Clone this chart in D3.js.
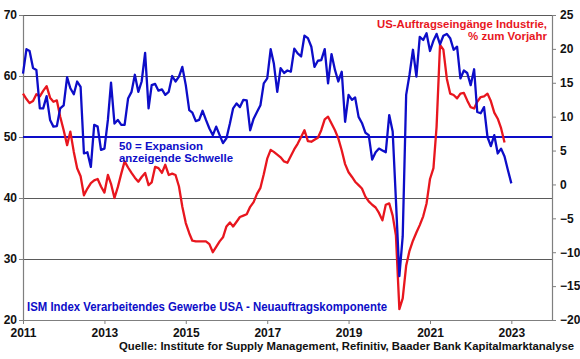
<!DOCTYPE html>
<html>
<head>
<meta charset="utf-8">
<script src="https://cdn.jsdelivr.net/npm/d3@7"></script>
<style>
  html, body { margin: 0; padding: 0; background: #fff; }
  svg { display: block; font-family: "Liberation Sans", Arial, sans-serif; }
</style>
</head>
<body>
<svg id="chart" width="580" height="359"></svg>
<script>
// ---- Data (monthly, Jan 2011 onward) ----
const startYear = 2011;
// ISM Index Verarbeitendes Gewerbe USA - Neuauftragskomponente (left axis), Jan 2011 - Jan 2023
const ismNewOrders = [
  60.4, 64.4, 64.1, 61.3, 61.0, 54.7, 54.7, 56.7, 52.8, 51.7, 51.8, 54.7,
  55.2, 59.8, 58.0, 57.0, 59.1, 58.2, 47.3, 47.5, 45.1, 52.0, 51.7, 47.9,
  48.1, 52.8, 58.9, 52.2, 52.8, 52.0, 52.0, 56.3, 57.4, 60.2, 57.4, 59.1,
  63.8, 54.7, 58.5, 58.7, 57.6, 57.8, 56.9, 57.4, 60.0, 59.1, 59.9, 61.5,
  58.5, 54.4, 54.0, 52.6, 52.8, 54.3, 52.8, 51.4, 50.3, 51.7, 50.3, 49.0,
  49.8, 52.2, 54.7, 55.5, 54.9, 56.1, 56.0, 51.1, 53.0, 54.1, 55.2, 58.8,
  59.6, 64.4, 62.1, 57.4, 61.3, 60.5, 60.9, 60.7, 64.5, 63.7, 63.2, 66.6,
  66.2, 64.8, 61.5, 62.5, 62.6, 64.4, 58.8, 63.6, 61.0, 59.1, 60.7, 52.5,
  56.9, 56.1, 56.5, 53.3, 52.3, 50.7, 50.3, 46.3, 47.5, 48.1, 47.8, 47.5,
  53.6, 50.9, 39.7, 27.2, 33.7, 56.9, 60.2, 64.3, 59.9, 66.4, 65.9, 67.0,
  64.1, 65.8, 66.9, 65.2, 66.6, 66.9, 66.2, 64.3, 64.8, 59.6, 60.9, 60.5,
  58.5, 61.1, 54.1, 53.9, 54.9, 50.0, 48.5, 50.3, 47.3, 48.1, 46.8, 44.6,
  42.4
];
// US-Auftragseingänge Industrie, % zum Vorjahr (right axis), Jan 2011 - Nov 2022
const factoryOrdersYoY = [
  13.4, 12.6, 12.0, 12.3, 13.3, 13.0, 13.8, 14.5, 12.8, 12.2, 12.4, 10.0,
  8.0, 5.8, 7.8, 4.8, 2.4, 1.2, -1.6, -0.6, 0.2, 0.6, 0.8, -0.3,
  -1.2, 1.4, 0.1, -2.0, -0.4, 1.6, 3.4, 2.5, 1.7, 1.0, 0.4, 1.1,
  1.7, -0.1, 0.3, 2.6, 2.4, 1.7, 2.9, 1.4, 1.6, 1.4, -0.3, -3.3,
  -5.7, -7.2, -8.3, -8.4, -8.4, -8.4, -8.4, -8.8, -10.0, -9.2, -8.4, -7.8,
  -6.2, -5.6, -6.2, -5.5, -4.8, -4.6, -4.4, -3.3, -2.6, -1.4, -0.5, 1.5,
  3.8, 5.1, 4.8, 4.4, 4.0, 3.4, 3.2, 4.2, 5.2, 6.0, 7.0, 8.0,
  6.4, 6.3, 6.6, 6.9, 8.0, 9.6, 10.0, 9.0, 8.0, 6.8, 5.0, 3.0,
  1.8, 1.1, 0.4, -0.1, -0.6, -1.8, -2.5, -3.0, -3.4, -4.2, -5.3, -3.0,
  -2.8, -4.6, -7.5, -18.4, -16.8, -12.0, -9.8, -8.3, -7.1, -6.0, -4.7, -2.8,
  0.8, 2.4, 8.5, 20.6, 19.9, 15.6, 13.4, 13.2, 12.7, 13.4, 13.5, 12.4,
  11.4, 11.2, 12.2, 12.9, 13.0, 13.4, 12.3, 10.6, 9.7, 8.3, 6.2
];
const yearTicks = [2011, 2013, 2015, 2017, 2019, 2021, 2023];
const leftTicks = [20, 30, 40, 50, 60, 70];
const rightTicks = [-20, -15, -10, -5, 0, 5, 10, 15, 20, 25];
const gridValues = [30, 40, 60, 70];
const thresholdValue = 50;
const titleBlue = "ISM Index Verarbeitendes Gewerbe USA - Neuauftragskomponente";
const thresholdLabel = ["50 = Expansion", "anzeigende Schwelle"];
const titleRed = ["US-Auftragseingänge Industrie,", "% zum Vorjahr"];
const sourceText = "Quelle: Institute for Supply Management, Refinitiv, Baader Bank Kapitalmarktanalyse";

// ---- Layout ----
const plot = { left: 23, right: 552, top: 15, bottom: 320 };
const BLUE = "#0d0dc8";
const RED = "#e8161e";
const GRID = "#5a5a5a";
const AXIS = "#7f7f7f";

const svg = d3.select("#chart");

const x = d3.scaleTime()
  .domain([new Date(2011, 0, 1), new Date(2024, 0, 1)])
  .range([plot.left, plot.right]);
const yL = d3.scaleLinear().domain([20, 70]).range([plot.bottom, plot.top]);
const yR = d3.scaleLinear().domain([-20, 25]).range([plot.bottom, plot.top]);

const monthDate = i => new Date(startYear, i, 1);

// Gridlines
svg.append("g").selectAll("line").data(gridValues).join("line")
  .attr("x1", plot.left).attr("x2", plot.right)
  .attr("y1", d => yL(d)).attr("y2", d => yL(d))
  .attr("stroke", GRID).attr("stroke-width", 1).attr("shape-rendering", "crispEdges");

// Axes
function styleAxis(g) {
  g.select(".domain").attr("stroke", AXIS).attr("stroke-width", 1.2);
  g.selectAll(".tick line").attr("stroke", AXIS).attr("stroke-width", 1);
  g.selectAll("text").attr("font-family", "Liberation Sans, Arial, sans-serif")
    .attr("font-weight", "bold").attr("font-size", 12).attr("fill", "#111");
}

svg.append("g")
  .attr("transform", `translate(0,${plot.bottom})`)
  .call(d3.axisBottom(x)
    .tickValues(yearTicks.map(yv => new Date(yv, 0, 1)))
    .tickFormat(d3.timeFormat("%Y"))
    .tickSizeInner(4).tickSizeOuter(0).tickPadding(4))
  .call(styleAxis);

svg.append("g")
  .attr("transform", `translate(${plot.left},0)`)
  .call(d3.axisLeft(yL).tickValues(leftTicks).tickFormat(d3.format("d"))
    .tickSizeInner(4).tickSizeOuter(0).tickPadding(2))
  .call(styleAxis);

svg.append("g")
  .attr("transform", `translate(${plot.right},0)`)
  .call(d3.axisRight(yR).tickValues(rightTicks).tickFormat(d3.format("d"))
    .tickSizeInner(4).tickSizeOuter(0).tickPadding(4))
  .call(styleAxis);

// Threshold line at 50
svg.append("line")
  .attr("x1", plot.left).attr("x2", plot.right)
  .attr("y1", yL(thresholdValue)).attr("y2", yL(thresholdValue))
  .attr("stroke", BLUE).attr("stroke-width", 2);

// Red line (right axis)
const lineR = d3.line().x((d, i) => x(monthDate(i))).y(d => yR(d));
svg.append("path").datum(factoryOrdersYoY)
  .attr("d", lineR).attr("fill", "none")
  .attr("stroke", RED).attr("stroke-width", 2.3).attr("stroke-linejoin", "round");

// Blue line (left axis)
const lineL = d3.line().x((d, i) => x(monthDate(i))).y(d => yL(d));
svg.append("path").datum(ismNewOrders)
  .attr("d", lineL).attr("fill", "none")
  .attr("stroke", BLUE).attr("stroke-width", 2.3).attr("stroke-linejoin", "round");

// Texts
const txt = (xp, yp, s, color, anchor, len, size) => {
  const t = svg.append("text").attr("x", xp).attr("y", yp).text(s)
    .attr("fill", color).attr("font-weight", "bold")
    .attr("font-size", size || 12).attr("text-anchor", anchor || "start");
  if (len) t.attr("textLength", len).attr("lengthAdjust", "spacingAndGlyphs");
  return t;
};

txt(27, 311, titleBlue, BLUE, "start", 360, 12);
txt(119, 150, thresholdLabel[0], BLUE, "start", 84, 11);
txt(119, 161.5, thresholdLabel[1], BLUE, "start", 114, 11);
txt(547, 28, titleRed[0], RED, "end", 170, 11);
txt(547, 39.5, titleRed[1], RED, "end", 79, 11);
txt(574, 350, sourceText, "#111", "end", 455, 11.5);
</script>
</body>
</html>
